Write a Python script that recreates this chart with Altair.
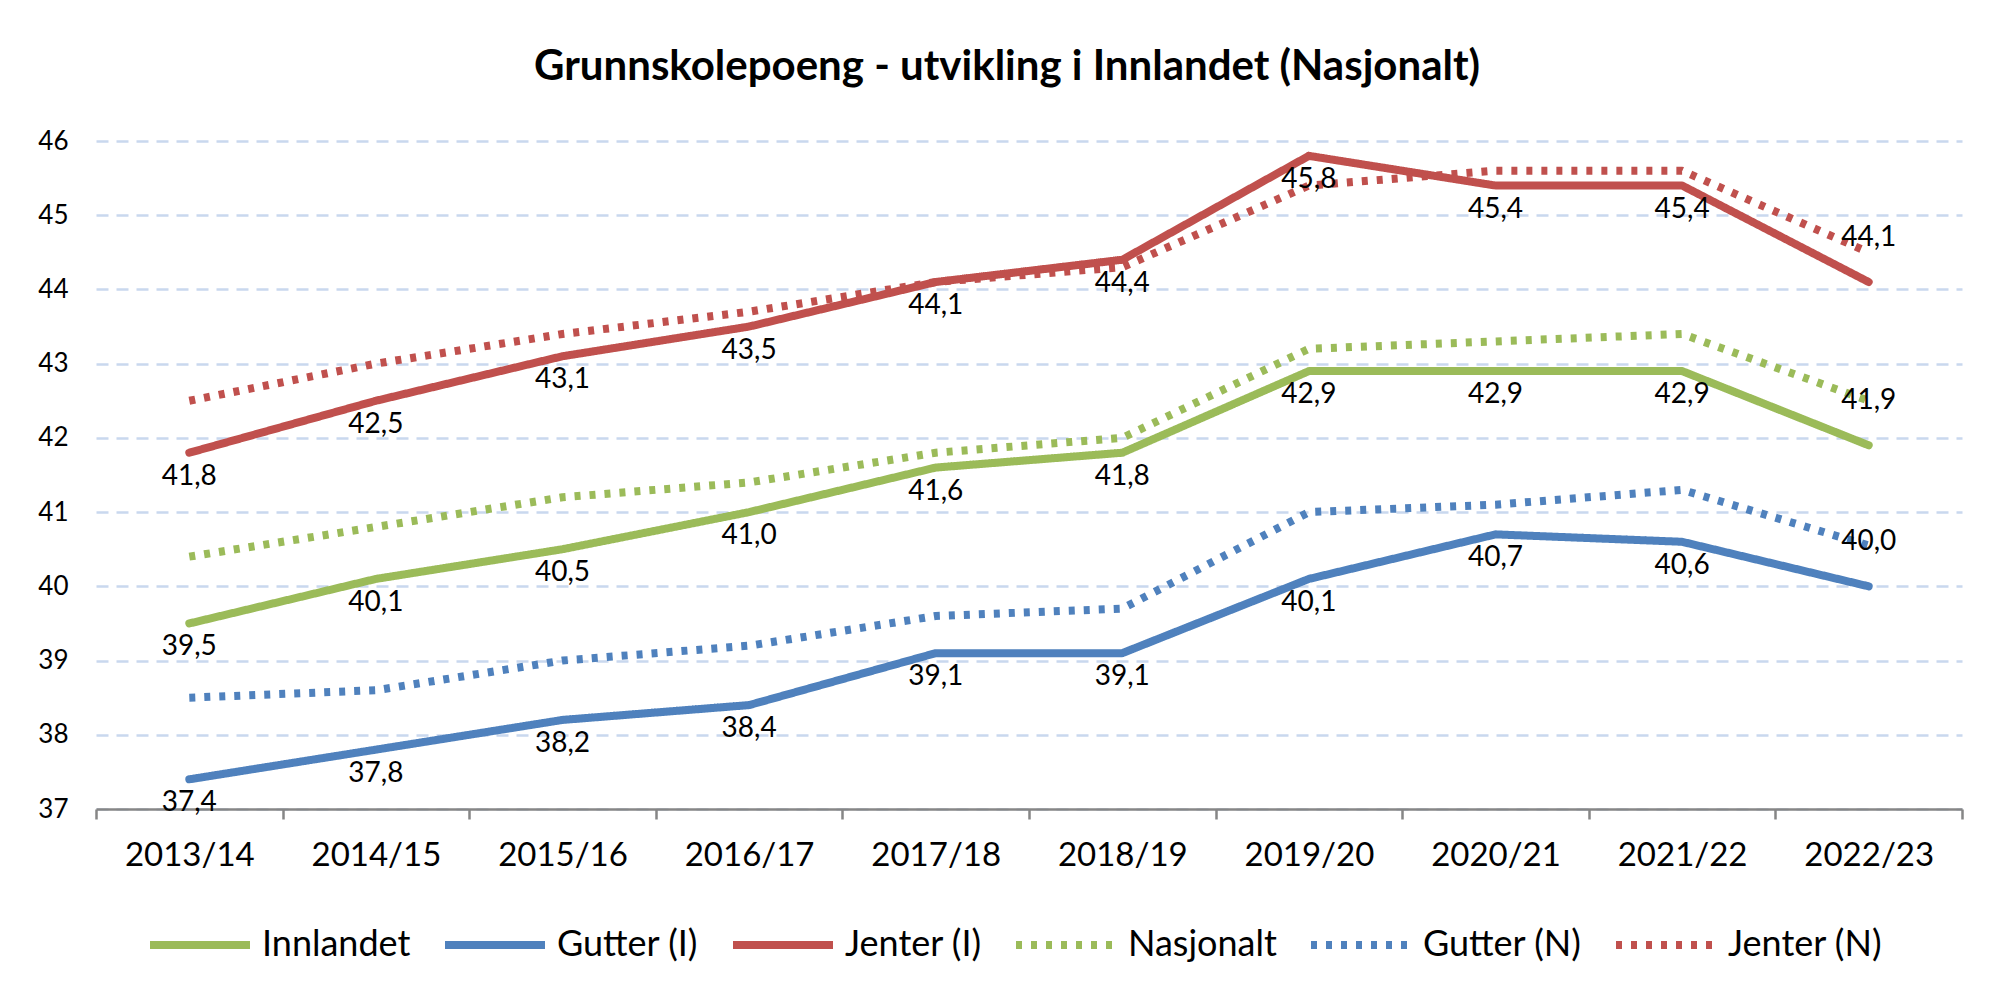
import altair as alt
import pandas as pd

# ---- data ----
years = ["2013/14", "2014/15", "2015/16", "2016/17", "2017/18",
         "2018/19", "2019/20", "2020/21", "2021/22", "2022/23"]

innlandet = [39.5, 40.1, 40.5, 41.0, 41.6, 41.8, 42.9, 42.9, 42.9, 41.9]
gutter_i = [37.4, 37.8, 38.2, 38.4, 39.1, 39.1, 40.1, 40.7, 40.6, 40.0]
jenter_i = [41.8, 42.5, 43.1, 43.5, 44.1, 44.4, 45.8, 45.4, 45.4, 44.1]
nasjonalt = [40.4, 40.8, 41.2, 41.4, 41.8, 42.0, 43.2, 43.3, 43.4, 42.5]
gutter_n = [38.5, 38.6, 39.0, 39.2, 39.6, 39.7, 41.0, 41.1, 41.3, 40.55]
jenter_n = [42.5, 43.0, 43.4, 43.7, 44.1, 44.3, 45.4, 45.6, 45.6, 44.5]

series_names = ["Innlandet", "Gutter (I)", "Jenter (I)",
                "Nasjonalt", "Gutter (N)", "Jenter (N)"]
series_values = [innlandet, gutter_i, jenter_i, nasjonalt, gutter_n, jenter_n]
series_kind = ["I", "I", "I", "N", "N", "N"]

colors = ["#9BBB59", "#4F81BD", "#C0504D", "#9BBB59", "#4F81BD", "#C0504D"]
dashes = [[1, 0], [1, 0], [1, 0], [6, 9], [6, 9], [6, 9]]
widths = [8, 8, 8, 6, 6, 6]

title_text = "Grunnskolepoeng - utvikling i Innlandet (Nasjonalt)"

rows = []
for name, kind, vals in zip(series_names, series_kind, series_values):
    for i, (yr, v) in enumerate(zip(years, vals)):
        rows.append({"aar": yr, "serie": name, "verdi": v, "type": kind,
                     "siste": i == len(years) - 1})
df = pd.DataFrame(rows)

FONT = "Lato"

x = alt.X("aar:O", sort=years,
          scale=alt.Scale(type="band", domain=years, paddingInner=0, paddingOuter=0),
          axis=alt.Axis(title=None, labelAngle=0, labelFontSize=33, labelFont=FONT,
                        labelColor="black", labelPadding=20, domainColor="#868686",
                        domainWidth=2.5, tickColor="#868686", tickWidth=2.5, tickSize=10,
                        tickBand="extent", grid=False))
y = alt.Y("verdi:Q", scale=alt.Scale(domain=[37, 46], nice=False, zero=False),
          axis=alt.Axis(title=None, values=list(range(37, 47)), format="d",
                        labelFontSize=26, labelFont=FONT, labelColor="black",
                        labelPadding=28, ticks=False, tickSize=0, domain=False,
                        grid=True, gridColor="#C9D8EE", gridDash=[12, 8], gridWidth=2.5))

leg = alt.Legend(title=None, orient="none", legendX=50, legendY=750,
                 direction="horizontal", columns=6, symbolType="stroke",
                 symbolSize=10000, labelFontSize=36, labelFont=FONT,
                 labelColor="black", labelOffset=8, columnPadding=18, labelLimit=400)

color = alt.Color("serie:N", scale=alt.Scale(domain=series_names, range=colors), legend=leg)
dash = alt.StrokeDash("serie:N", scale=alt.Scale(domain=series_names, range=dashes), legend=leg)
sw = alt.StrokeWidth("serie:N", scale=alt.Scale(domain=series_names, range=widths), legend=leg)

base = alt.Chart(df)

solid = base.transform_filter("datum.type == 'I'").mark_line(
    strokeCap="round", strokeJoin="round").encode(x=x, y=y, color=color, strokeDash=dash, strokeWidth=sw)
dotted = base.transform_filter("datum.type == 'N'").mark_line(
    strokeCap="butt", strokeJoin="round").encode(x=x, y=y, color=color, strokeDash=dash, strokeWidth=sw)

lab = base.transform_filter("datum.type == 'I'").transform_calculate(
    tekst="replace(format(datum.verdi, '.1f'), '.', ',')")
lab_below = lab.transform_filter("!datum.siste").mark_text(
    dy=24, fontSize=28, font=FONT, color="black").encode(x=x, y=y, text="tekst:N")
lab_above = lab.transform_filter("datum.siste").mark_text(
    dy=-44, fontSize=28, font=FONT, color="black").encode(x=x, y=y, text="tekst:N")

chart = alt.layer(solid, dotted, lab_below, lab_above).properties(
    width=1866, height=668,
    autosize=alt.AutoSizeParams(type="none"),
    padding={"left": 88, "top": 133, "right": 25, "bottom": 176},
    title=alt.TitleParams(text=title_text, font=FONT, fontSize=42, fontWeight="bold",
                          color="black", anchor="middle", frame="group", offset=39, dx=-22),
    background="white",
).configure_view(stroke=None)

chart.save("out.html", embed_options={"renderer": "svg", "actions": False})
